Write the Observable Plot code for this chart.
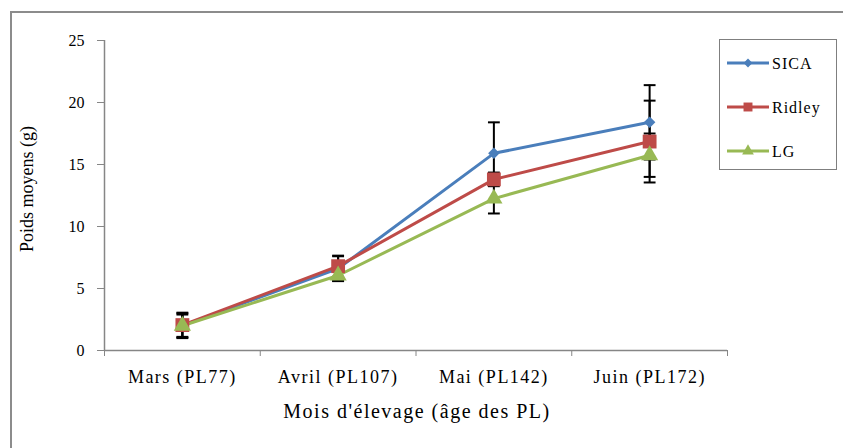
<!DOCTYPE html>
<html>
<head>
<meta charset="utf-8">
<script src="https://cdn.jsdelivr.net/npm/d3@7"></script>
<script src="https://cdn.jsdelivr.net/npm/@observablehq/plot@0.6"></script>
<style>
  html, body { margin: 0; padding: 0; background: #fff; }
  #wrap { position: relative; width: 843px; height: 448px; overflow: hidden; font-family: "Liberation Serif", serif; }
  #frame { position: absolute; left: 10px; top: 11px; width: 900px; height: 500px; border-left: 2px solid #8c8c8c; border-top: 2px solid #8c8c8c; }
  #chart { position: absolute; left: 0; top: 0; }
  #chart svg text { font-family: "Liberation Serif", serif; }
  #chart [aria-label="x-axis tick label"] text { letter-spacing: 1.5px; }
  .title { position: absolute; color: #000; white-space: nowrap; font-family: "Liberation Serif", serif; }
  #ytitle { left: 27px; top: 189px; font-size: 18px; transform: translate(-50%, -50%) rotate(-90deg); }
  #xtitle { left: 417px; top: 411px; font-size: 20px; letter-spacing: 1.5px; transform: translate(-50%, -50%); }
  #legend { position: absolute; left: 719px; top: 39px; width: 116px; height: 129px; border: 1px solid #7f7f7f; background: #fff; }
  #legend text { font-family: "Liberation Serif", serif; letter-spacing: 1px; }
</style>
</head>
<body>
<div id="wrap">
  <div id="frame"></div>
  <div id="chart"></div>
  <div class="title" id="ytitle">Poids moyens (g)</div>
  <div class="title" id="xtitle">Mois d'élevage (âge des PL)</div>
  <div id="legend"></div>
</div>
<script>
// Categories
const months = ["Mars (PL77)", "Avril (PL107)", "Mai (PL142)", "Juin (PL172)"];
const seriesNames = ["SICA", "Ridley", "LG"];
const seriesColors = ["#4a7ebb", "#be4b48", "#98b954"];
const seriesSymbols = ["diamond2", "square", "triangle"];
const seriesRadius = [5.2, 7.8, 6.4];
// Mean weights (g)
const sica = [2.0, 6.6, 15.9, 18.4];
const ridley = [2.05, 6.8, 13.8, 16.85];
const lg = [2.0, 6.05, 12.25, 15.75];
// Error bar half-widths (g)
const sicaErr = [1.0, 1.0, 2.5, 3.0];
const ridleyErr = [1.0, 0.85, 0.55, 3.3];
const lgErr = [0.9, 0.45, 1.2, 1.75];
// Y ticks
const yTicks = [0, 5, 10, 15, 20, 25];

const vals = {SICA: sica, Ridley: ridley, LG: lg};
const errs = {SICA: sicaErr, Ridley: ridleyErr, LG: lgErr};
const rows = [];
seriesNames.forEach(s => months.forEach((m, i) => rows.push({s, i, v: vals[s][i], e: errs[s][i]})));
const bounds = d3.range(months.length + 1).map(k => k - 0.5);
const capHalf = 0.038;

const dotMarks = seriesNames.map((s, k) =>
  Plot.dot(rows.filter(d => d.s === s), {x: "i", y: "v", fill: seriesColors[k], stroke: "none", symbol: seriesSymbols[k], r: seriesRadius[k]})
);

const chart = Plot.plot({
  width: 843,
  height: 448,
  marginLeft: 104,
  marginRight: 116,
  marginTop: 40,
  marginBottom: 98,
  style: {fontFamily: "Liberation Serif", fontSize: "16px", color: "#000", background: "transparent"},
  x: {domain: [-0.5, months.length - 0.5]},
  y: {domain: [0, 25]},
  marks: [
    Plot.axisY({ticks: yTicks, tickSize: 7, tickPadding: 13, stroke: "#868686", fill: "#000", label: null}),
    Plot.axisX({ticks: bounds, tickSize: 6, stroke: "#868686", tickFormat: () => "", label: null}),
    Plot.axisX({ticks: d3.range(months.length), tickSize: 0, tickPadding: 20, tickFormat: i => months[i], label: null, fontSize: 18}),
    Plot.ruleY([0], {stroke: "#868686", strokeWidth: 1.5}),
    Plot.ruleX([-0.5], {stroke: "#868686", strokeWidth: 1.5}),
    Plot.ruleX(rows, {x: "i", y1: d => d.v - d.e, y2: d => d.v + d.e, stroke: "#000", strokeWidth: 2}),
    Plot.link(rows, {x1: d => d.i - capHalf, x2: d => d.i + capHalf, y1: d => d.v + d.e, y2: d => d.v + d.e, stroke: "#000", strokeWidth: 2}),
    Plot.link(rows, {x1: d => d.i - capHalf, x2: d => d.i + capHalf, y1: d => d.v - d.e, y2: d => d.v - d.e, stroke: "#000", strokeWidth: 2}),
    ...seriesNames.map((s, k) => Plot.line(rows.filter(d => d.s === s), {x: "i", y: "v", stroke: seriesColors[k], strokeWidth: 3, strokeLinejoin: "round"})),
    ...dotMarks
  ]
});
document.getElementById("chart").appendChild(chart);

// Legend
const leg = d3.select("#legend").append("svg").attr("width", 116).attr("height", 129);
seriesNames.forEach((s, k) => {
  const cy = 23 + k * 44;
  const g = leg.append("g");
  g.append("line").attr("x1", 7).attr("x2", 49).attr("y1", cy).attr("y2", cy)
    .attr("stroke", seriesColors[k]).attr("stroke-width", 3);
  const sym = {diamond2: d3.symbolDiamond2, square: d3.symbolSquare, triangle: d3.symbolTriangle}[seriesSymbols[k]];
  const size = [50, 80, 60][k];
  g.append("path").attr("d", d3.symbol(sym, size)()).attr("transform", `translate(28,${cy})`).attr("fill", seriesColors[k]);
  g.append("text").attr("x", 52).attr("y", cy).attr("dy", "0.35em").attr("font-size", 16).text(s);
});
</script>
</body>
</html>
